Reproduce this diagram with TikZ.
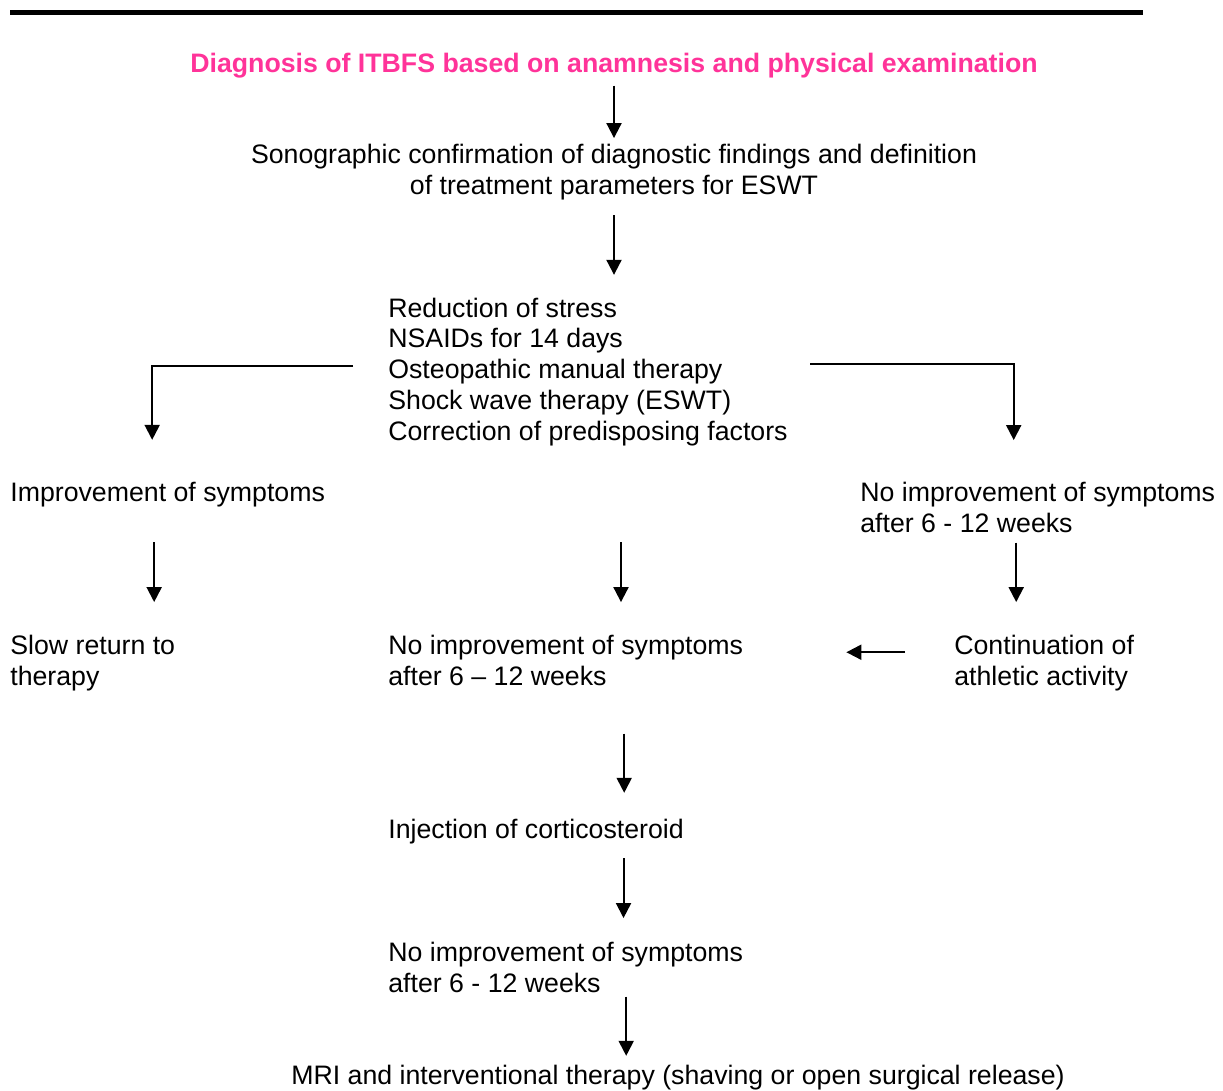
\documentclass[tikz,border=0pt]{standalone}
\usepackage{fontspec}
\setmainfont{Liberation Sans}
\usetikzlibrary{arrows.meta}
\definecolor{titlepink}{RGB}{255,51,153}

\begin{document}
\begin{tikzpicture}[x=0.02cm,y=-0.02cm,
			flow node/.style={inner sep=0pt,font=\fontsize{15.2}{17.5}\selectfont},
			left node/.style={flow node,anchor=base west,align=left},
			title node/.style={flow node,anchor=base,font=\fontsize{15.2}{17.5}\selectfont\bfseries,text=titlepink},
			flow arrow/.style={-{Triangle[length=0.3cm,width=0.3cm]},line width=0.04cm}
			]
			
			\useasboundingbox (0,0) rectangle (1223,1090);
			\draw[line width=0.1cm] (10,12.5) -- (1143,12.5);
			
			% base = baseline of the last line
			\node[title node] at (614,72) (diag) {Diagnosis of ITBFS based on anamnesis and physical examination};
			\node[flow node,anchor=base,align=center] at (614,194) (sono) {Sonographic confirmation of diagnostic findings and definition\\of treatment parameters for ESWT};
			\node[left node] at (388,440) (stress) {Reduction of stress\\NSAIDs for 14 days\\Osteopathic manual therapy\\Shock wave therapy (ESWT)\\Correction of predisposing factors};
			
			\node[left node] at (10,501) (better) {Improvement of symptoms};
			\node[left node] at (860,532) (nobetter) {No improvement of symptoms\\after 6 - 12 weeks};
			
			\node[left node] at (10,685) (slow) {Slow return to\\therapy};
			\node[left node] at (388,685) (nomid) {No improvement of symptoms\\after 6 -- 12 weeks};
			\node[left node] at (954,685) (cont) {Continuation of\\athletic activity};
			
			\node[left node] at (388,838) (inject) {Injection of corticosteroid};
			\node[left node] at (388,992) (nolow) {No improvement of symptoms\\after 6 - 12 weeks};
			\node[flow node,anchor=base] at (678,1084) (mri) {MRI and interventional therapy (shaving or open surgical release)};
			
			\draw[flow arrow,shorten <=0.15cm,shorten >=0.11cm] (diag) -- (sono);
			\draw[flow arrow,shorten <=0.31cm,shorten >=0.45cm] (sono.south) -- (sono.south |- stress.north);
			\draw[flow arrow,shorten <=0.7cm,shorten >=0.83cm] ([yshift=0.11cm]stress.west) -| ([xshift=-0.31cm]better.north);
			\draw[flow arrow,shorten <=0.44cm,shorten >=0.83cm] ([yshift=0.15cm]stress.east) -| ([xshift=-0.48cm]nobetter.north);
			
			\draw[flow arrow,shorten <=0.71cm,shorten >=0.65cm] ([xshift=-0.27cm]better.south) -- ([xshift=-0.27cm]better.south |- slow.north);
			\draw[flow arrow,shorten <=1.93cm,shorten >=0.65cm] ([xshift=0.66cm]stress.south) -- ([xshift=0.66cm]stress.south |- nomid.north);
			\draw[flow arrow,shorten <=0.2cm,shorten >=0.65cm] ([xshift=-0.43cm]nobetter.south) -- ([xshift=-0.43cm]nobetter.south |- cont.north);
			\draw[flow arrow,shorten <=0.98cm,shorten >=2.06cm] ([yshift=0.21cm]cont.west) -- ([yshift=0.21cm]cont.west -| nomid.east);
			
			\draw[flow arrow,shorten <=0.96cm,shorten >=0.51cm] ([xshift=1.17cm]nomid.south) -- ([xshift=1.17cm]nomid.south |- inject.north);
			\draw[flow arrow,shorten <=0.29cm,shorten >=0.47cm] ([xshift=1.75cm]inject.south) -- ([xshift=1.75cm]inject.south |- nolow.north);
			\draw[flow arrow,shorten <=0.08cm,shorten >=0.17cm] ([xshift=1.21cm]nolow.south) -- ([xshift=1.21cm]nolow.south |- mri.north);
			
			\end{tikzpicture}
\end{document}
